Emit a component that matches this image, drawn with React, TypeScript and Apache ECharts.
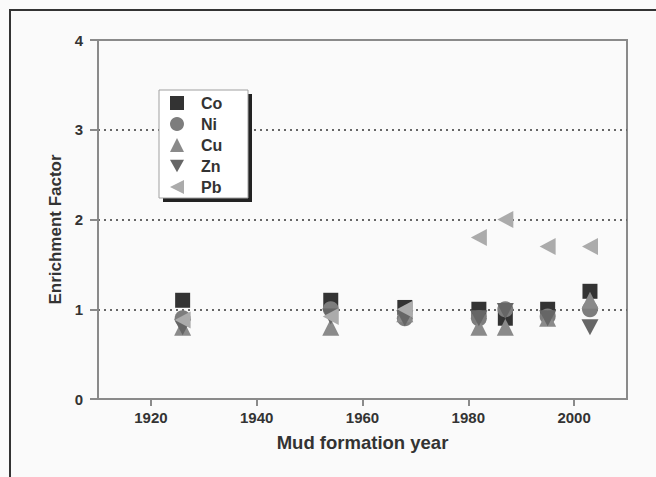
import React, { useEffect, useRef } from "react";
import * as echarts from "echarts";

const years = [1926, 1954, 1968, 1982, 1987, 1995, 2003];
const coValues = [1.1, 1.1, 1.02, 1.0, 0.9, 1.0, 1.2];
const niValues = [0.9, 1.0, 0.9, 0.9, 1.0, 0.92, 1.0];
const cuValues = [0.8, 0.8, 0.95, 0.8, 0.8, 0.9, 1.1];
const znValues = [0.8, 0.92, 0.9, 0.9, 0.98, 0.9, 0.8];
const pbValues = [0.88, 0.92, 1.0, 1.8, 2.0, 1.7, 1.7];
const xTickValues = [1920, 1940, 1960, 1980, 2000];
const seriesNames = ["Co", "Ni", "Cu", "Zn", "Pb"];

const FONT = "'Liberation Sans', Arial, Helvetica, sans-serif";

function pairs(vals: number[]) {
  return years.map((y, i) => [y, vals[i]]);
}

export default function App() {
  const ref = useRef<HTMLDivElement>(null);
  useEffect(() => {
    if (!ref.current) return;
    const chart = echarts.init(ref.current, undefined, { renderer: "svg" });
    const symbolDefs: any[] = [
      { symbol: "rect", size: 15, color: "#333333" },
      { symbol: "circle", size: 16, color: "#7d7d7d" },
      { symbol: "triangle", size: 17, color: "#8a8a8a" },
      { symbol: "path://M0,0 L10,0 L5,9 Z", size: [17, 16], color: "#666666" },
      { symbol: "path://M10,0 L10,10 L0,5 Z", size: [16, 17], color: "#ababab" },
    ];
    const valueSets = [coValues, niValues, cuValues, znValues, pbValues];
    chart.setOption({
      animation: false,
      backgroundColor: "#fafafa",
      textStyle: { fontFamily: FONT },
      grid: {
        left: 98,
        right: 29,
        top: 40,
        bottom: 78,
        show: true,
        borderColor: "#8a8a8a",
        borderWidth: 2,
        backgroundColor: "transparent",
      },
      xAxis: {
        type: "value",
        min: 1910,
        max: 2010,
        name: "Mud formation year",
        nameLocation: "middle",
        nameGap: 34,
        nameTextStyle: { fontSize: 18.5, fontWeight: "bold", color: "#333", fontFamily: FONT },
        axisLine: { show: true, lineStyle: { color: "#8a8a8a", width: 2 } },
        axisTick: { show: true, customValues: xTickValues, length: 7, lineStyle: { color: "#8a8a8a", width: 2 } },
        axisLabel: {
          customValues: xTickValues,
          formatter: (v: number) => String(v),
          margin: 11,
          fontSize: 15,
          fontWeight: "bold",
          color: "#333",
          fontFamily: FONT,
        },
        splitLine: { show: false },
      },
      yAxis: {
        type: "value",
        min: 0,
        max: 4,
        interval: 1,
        name: "Enrichment Factor",
        nameLocation: "middle",
        nameGap: 31,
        nameTextStyle: {
          fontSize: 17,
          fontWeight: "bold",
          color: "#333",
          fontFamily: FONT,
          padding: [0, 20, 0, 0],
        },
        axisLine: { show: true, lineStyle: { color: "#8a8a8a", width: 2 } },
        axisTick: { show: true, length: 8, lineStyle: { color: "#8a8a8a", width: 2 } },
        axisLabel: { margin: 15, fontSize: 15, fontWeight: "bold", color: "#333", fontFamily: FONT },
        splitLine: {
          show: true,
          showMinLine: false,
          showMaxLine: false,
          lineStyle: { color: "#666", width: 2, type: [2, 4] },
        },
      },
      legend: {
        orient: "vertical",
        left: 170,
        top: 95,
        itemWidth: 14,
        itemHeight: 14,
        itemGap: 5,
        padding: 0,
        data: seriesNames,
        textStyle: {
          fontSize: 16,
          lineHeight: 16,
          fontWeight: "bold",
          color: "#333",
          fontFamily: FONT,
          padding: [0, 0, 0, 12],
        },
        z: 6,
      },
      graphic: [
        {
          type: "rect",
          z: 4,
          shape: { x: 163, y: 94, width: 89, height: 108 },
          style: { fill: "#222222" },
        },
        {
          type: "rect",
          z: 5,
          shape: { x: 159, y: 90, width: 89, height: 108 },
          style: { fill: "#ffffff", stroke: "#a0a0a0", lineWidth: 1 },
        },
        {
          type: "line",
          z: 10,
          shape: { x1: 9, y1: 10, x2: 656, y2: 10 },
          style: { stroke: "#333", lineWidth: 2 },
        },
        {
          type: "line",
          z: 10,
          shape: { x1: 10, y1: 10, x2: 10, y2: 477 },
          style: { stroke: "#333", lineWidth: 2 },
        },
      ],
      series: seriesNames.map((name, i) => ({
        name,
        type: "scatter",
        symbol: symbolDefs[i].symbol,
        symbolSize: symbolDefs[i].size,
        itemStyle: { color: symbolDefs[i].color, opacity: 1 },
        data: pairs(valueSets[i]),
        z: 2 + i,
      })),
    });
    return () => chart.dispose();
  }, []);
  return (
    <div
      ref={ref}
      style={{ position: "fixed", left: 0, top: 0, width: 656, height: 477 }}
    />
  );
}
